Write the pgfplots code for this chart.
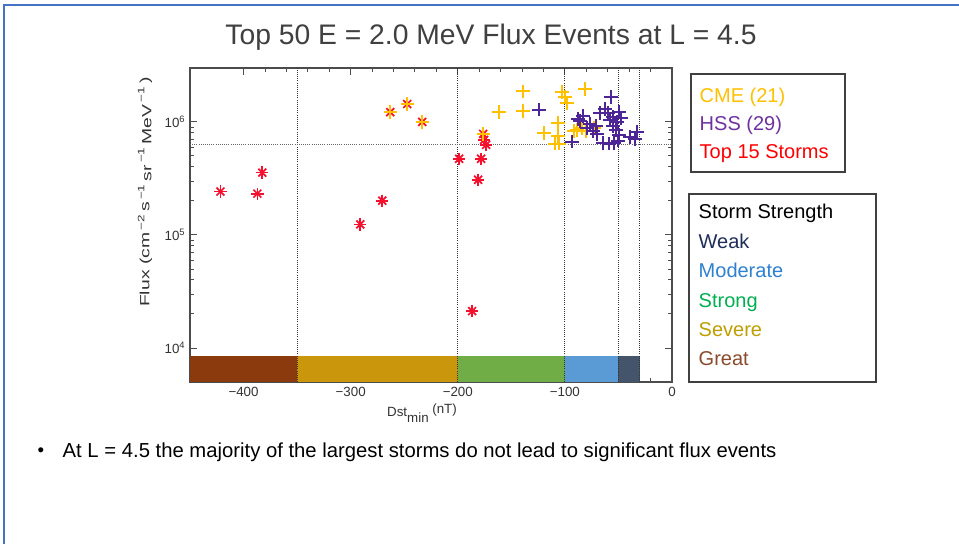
\documentclass[border=0pt]{standalone}
\usepackage{fontspec}
\setmainfont{Liberation Sans}
\usepackage{pgfplots}
\usepackage{pgfplotstable}
\pgfplotsset{compat=1.18}

\definecolor{cme}{HTML}{FFC000}
\definecolor{hss}{HTML}{4E2596}
\definecolor{hsstext}{HTML}{7030A0}
\definecolor{storm}{HTML}{F5102E}
\definecolor{weakbar}{HTML}{44546A}
\definecolor{weaktxt}{HTML}{1F2D5A}
\definecolor{modbar}{HTML}{5B9BD5}
\definecolor{modtxt}{HTML}{2E80D0}
\definecolor{strbar}{HTML}{70AD47}
\definecolor{strtxt}{HTML}{00B050}
\definecolor{sevbar}{HTML}{C9960C}
\definecolor{sevtxt}{HTML}{BF9F00}
\definecolor{grtbar}{HTML}{8B3A0E}
\definecolor{grttxt}{HTML}{8B4A2B}
\definecolor{slide}{HTML}{4472C4}

% Top 15 storms (Dst_min, flux)
\pgfplotstableread{
x y
-421.6 2.42e5
-387.1 2.32e5
-382.5 3.56e5
-270.5 2.01e5
-291.0 1.24e5
-263.0 1.22e6
-247.2 1.44e6
-233.2 1.00e6
-176.3 7.83e5
-173.5 6.27e5
-198.7 4.72e5
-178.2 4.72e5
-181.0 3.08e5
-186.6 2.12e4
-175.4 6.93e5
}\tabstorms

% CME events
\pgfplotstableread{
x y
-263.0 1.22e6
-247.2 1.44e6
-233.2 1.00e6
-176.3 7.83e5
-139.0 1.87e6
-102.6 1.84e6
-81.2 1.95e6
-161.4 1.22e6
-139.0 1.25e6
-97.9 1.47e6
-106.3 9.8e5
-119.4 8.0e5
-106.3 7.53e5
-109.1 6.4e5
-105.4 6.4e5
-91.4 8.33e5
-84.0 8.85e5
-72.8 8.85e5
-88.6 8.5e5
-99.8 1.66e6
-80.2 8.33e5
}\tabcme

% HSS events
\pgfplotstableread{
x y
-124.1 1.28e6
-93.3 6.67e5
-87.7 1.06e6
-83.0 1.13e6
-76.5 9.6e5
-73.7 8.33e5
-70.0 7.83e5
-67.2 1.20e6
-62.5 1.30e6
-59.7 1.20e6
-56.9 1.66e6
-55.0 1.11e6
-51.3 1.00e6
-55.0 9.22e5
-49.4 1.22e6
-49.4 7.68e5
-64.4 6.53e5
-58.8 6.40e5
-54.1 6.53e5
-50.4 6.81e5
-39.2 7.38e5
-32.6 8.16e5
-34.5 7.08e5
-79.3 8.85e5
-52.2 8.50e5
-47.6 1.08e6
-70.9 9.22e5
-57.8 1.04e6
-85.8 1.02e6
}\tabhss

\newcommand{\sps}[1]{\textsuperscript{\,#1\,}}

\begin{document}
\begin{tikzpicture}[x=0.75pt,y=0.75pt]
\useasboundingbox (0,0) rectangle (959,544);
\fill[white] (0,0) rectangle (959,544);
\draw[slide, line width=1.6pt] (4,0) -- (4,539) -- (959,539);

\begin{axis}[
  at={(142.5pt,121.5pt)}, anchor=south west,
  scale only axis, width=361.5pt, height=235.5pt,
  xmin=-450, xmax=0, ymode=log, ymin=5e3, ymax=3e6,
  xtick={-400,-300,-200,-100,0},
  xticklabels={−400,−300,−200,−100,0},
  minor x tick num=4,
  ytick={1e4,1e5,1e6},
  yticklabels={10\textsuperscript{4},10\textsuperscript{5},10\textsuperscript{6}},
  tick align=inside,
  major tick length=5pt, minor tick length=2.8pt,
  axis line style={draw=black!70, line width=1pt},
  every tick/.style={black!70, line width=0.7pt},
  ticklabel style={font=\fontsize{10}{11}\selectfont, text=black!80},
  /pgf/number format/assume math mode=true,
  clip=false,
]
% storm strength bands
\addplot[draw=none, fill=grtbar] coordinates {(-450,5e3) (-350,5e3) (-350,8.5e3) (-450,8.5e3)};
\addplot[draw=none, fill=sevbar] coordinates {(-350,5e3) (-200,5e3) (-200,8.5e3) (-350,8.5e3)};
\addplot[draw=none, fill=strbar] coordinates {(-200,5e3) (-100,5e3) (-100,8.5e3) (-200,8.5e3)};
\addplot[draw=none, fill=modbar] coordinates {(-100,5e3) (-50,5e3) (-50,8.5e3) (-100,8.5e3)};
\addplot[draw=none, fill=weakbar] coordinates {(-50,5e3) (-30,5e3) (-30,8.5e3) (-50,8.5e3)};
% boundaries
\addplot[black!80, densely dotted, line width=0.6pt] coordinates {(-350,5e3) (-350,3e6)};
\addplot[black!80, densely dotted, line width=0.6pt] coordinates {(-200,5e3) (-200,3e6)};
\addplot[black!80, densely dotted, line width=0.6pt] coordinates {(-100,5e3) (-100,3e6)};
\addplot[black!80, densely dotted, line width=0.6pt] coordinates {(-50,5e3) (-50,3e6)};
\addplot[black!80, densely dotted, line width=0.6pt] coordinates {(-30,5e3) (-30,3e6)};
\addplot[black!60, densely dotted, line width=0.6pt] coordinates {(-450,6.3e5) (0,6.3e5)};
% events (8-armed asterisk = + and x on top of each other)
\addplot[only marks, mark=+, mark size=4.6pt, storm, mark options={line width=1.3pt}] table {\tabstorms};
\addplot[only marks, mark=x, mark size=4.2pt, storm, mark options={line width=1.3pt}] table {\tabstorms};
\addplot[only marks, mark=+, mark size=5pt, cme, mark options={line width=1.4pt}] table {\tabcme};
\addplot[only marks, mark=+, mark size=5pt, hss, mark options={line width=1.4pt}] table {\tabhss};
\end{axis}

% title and axis labels
\node[text=black!75, font=\fontsize{21.2}{24}\selectfont] at (491,507) {Top 50 E = 2.0 MeV Flux Events at L = 4.5};
\node[rotate=90, text=black!80, font=\fontsize{10}{12}\selectfont] at (145,352)
  {\scalebox{1.45}[1]{Flux (cm\sps{−2}s\sps{−1}\raisebox{-0.3ex}{sr}\sps{−1}\raisebox{-0.3ex}{MeV}\sps{−1})}};
\node[text=black!80, font=\fontsize{10}{12}\selectfont] at (422,131)
  {Dst\raisebox{-0.8ex}{min} \raisebox{0.4ex}{(nT)}};

% legend boxes
\draw[black!75, line width=1pt] (691,470) rectangle (845,372);
\node[anchor=base west, text=cme, font=\fontsize{15}{18}\selectfont] at (695,442) {CME (21)};
\node[anchor=base west, text=hsstext, font=\fontsize{15}{18}\selectfont] at (695,414) {HSS (29)};
\node[anchor=base west, text=red, font=\fontsize{15}{18}\selectfont] at (695,386) {Top 15 Storms};

\draw[black!75, line width=1pt] (689,350) rectangle (876,162);
\node[anchor=base west, text=black, font=\fontsize{15}{18}\selectfont] at (694,326) {Storm Strength};
\node[anchor=base west, text=weaktxt, font=\fontsize{15}{18}\selectfont] at (694,296) {Weak};
\node[anchor=base west, text=modtxt, font=\fontsize{15}{18}\selectfont] at (694,267) {Moderate};
\node[anchor=base west, text=strtxt, font=\fontsize{15}{18}\selectfont] at (694,237) {Strong};
\node[anchor=base west, text=sevtxt, font=\fontsize{15}{18}\selectfont] at (694,208) {Severe};
\node[anchor=base west, text=grttxt, font=\fontsize{15}{18}\selectfont] at (694,179) {Great};

% bullet
\node[font=\fontsize{14}{17}\selectfont] at (41,92) {•};
\node[anchor=west, font=\fontsize{15.2}{18}\selectfont] at (58,92)
  {At L = 4.5 the majority of the largest storms do not lead to significant flux events};
\end{tikzpicture}
\end{document}
